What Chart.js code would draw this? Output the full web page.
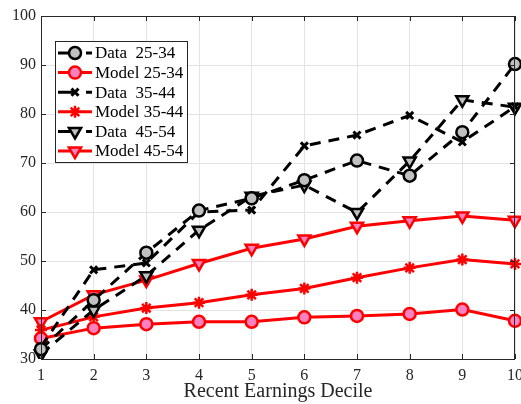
<!DOCTYPE html>
<html>
<head>
<meta charset="utf-8">
<script src="https://cdn.jsdelivr.net/npm/chart.js@4.4.1/dist/chart.umd.min.js"></script>
<style>
html,body{margin:0;padding:0;background:#fff;overflow:hidden;}
#wrap{width:521px;height:404px;position:relative;overflow:hidden;}
#c{position:absolute;left:0;top:0;}
</style>
</head>
<body>
<div id="wrap"><canvas id="c" width="530" height="404"></canvas></div>
<script>
const deciles = ['1','2','3','4','5','6','7','8','9','10'];
const yTicks = [30,40,50,60,70,80,90,100];
const data2534 = [32, 42, 51.7, 60.3, 62.8, 66.5, 70.5, 67.4, 76.3, 90.2];
const model2534 = [34.2, 36.3, 37.1, 37.6, 37.6, 38.5, 38.8, 39.2, 40.1, 37.8];
const data3544 = [32.5, 48.2, 49.6, 60.0, 60.4, 73.5, 75.7, 79.7, 74.3, 81.5];
const model3544 = [35.9, 38.6, 40.4, 41.5, 43.1, 44.4, 46.6, 48.6, 50.3, 49.4];
const data4554 = [31, 40, 47, 56.3, 63.2, 65.5, 59.9, 70.4, 82.9, 81.4];
const model4554 = [37.6, 43.1, 46.1, 49.5, 52.6, 54.5, 57.1, 58.2, 59.2, 58.3];
const seriesLabels = ['Data  25-34','Model 25-34','Data  35-44','Model 35-44','Data  45-54','Model 45-54'];

const FONT = '"Liberation Serif", "Times New Roman", serif';
const TXT = '#262626';

function ds(label, data, isModel, style) {
  const base = {
    label, data,
    borderColor: isModel ? '#ff0000' : '#000000',
    borderWidth: 3,
    borderDash: isModel ? [] : [11, 8],
    pointBorderColor: isModel ? '#ff0000' : '#000000',
    pointBorderWidth: 2.5,
    pointHoverRadius: 6,
    tension: 0,
    fill: false,
    order: isModel ? 2 : 1
  };
  if (style === 'circle') {
    base.pointStyle = 'circle';
    base.pointRadius = 6;
    base.pointBackgroundColor = isModel ? '#ff80c0' : '#c0c0c0';
  } else if (style === 'tri') {
    base.pointStyle = 'triangle';
    base.pointRotation = 180;
    base.pointRadius = 7;
    base.pointBackgroundColor = isModel ? '#ff80c0' : '#c0c0c0';
  } else {
    base.pointStyle = isModel ? 'star' : 'crossRot';
    base.pointRadius = isModel ? 6 : 5;
    base.pointBorderWidth = isModel ? 2.5 : 3;
    base.pointBackgroundColor = isModel ? '#ff0000' : '#000000';
  }
  return base;
}

const datasets = [
  ds(seriesLabels[0], data2534, false, 'circle'),
  ds(seriesLabels[1], model2534, true, 'circle'),
  ds(seriesLabels[2], data3544, false, 'x'),
  ds(seriesLabels[3], model3544, true, 'x'),
  ds(seriesLabels[4], data4554, false, 'tri'),
  ds(seriesLabels[5], model4554, true, 'tri')
];

const framePlugin = {
  id: 'frame',
  afterDatasetsDraw(chart) {
    const {ctx, chartArea: a, scales} = chart;
    ctx.save();
    ctx.strokeStyle = TXT;
    ctx.lineWidth = 1;
    ctx.setLineDash([]);
    ctx.strokeRect(a.left + 0.5, a.top + 0.5, a.right - a.left - 1, a.bottom - a.top);
    const tl = 5;
    ctx.beginPath();
    scales.x.ticks.forEach((t, i) => {
      const x = Math.round(scales.x.getPixelForTick(i)) + 0.5;
      ctx.moveTo(x, a.bottom); ctx.lineTo(x, a.bottom - tl);
      ctx.moveTo(x, a.top); ctx.lineTo(x, a.top + tl);
    });
    scales.y.ticks.forEach((t, i) => {
      const y = Math.round(scales.y.getPixelForTick(i)) + 0.5;
      ctx.moveTo(a.left, y); ctx.lineTo(a.left + tl, y);
      ctx.moveTo(a.right, y); ctx.lineTo(a.right - tl, y);
    });
    ctx.stroke();

    // legend
    const lx = 55, ly = 41, lw = 132, lh = 121;
    ctx.fillStyle = '#ffffff';
    ctx.fillRect(lx, ly, lw, lh);
    ctx.strokeStyle = TXT;
    ctx.lineWidth = 1;
    ctx.strokeRect(lx + 0.5, ly + 0.5, lw, lh);
    const rowH = 19.6;
    chart.data.datasets.forEach((d, i) => {
      const y = ly + 12 + i * rowH;
      ctx.save();
      ctx.strokeStyle = d.borderColor;
      ctx.lineWidth = 3;
      ctx.beginPath();
      if (d.borderDash.length) {
        ctx.moveTo(lx + 3, y); ctx.lineTo(lx + 20, y);
        ctx.moveTo(lx + 31, y); ctx.lineTo(lx + 37, y);
      } else {
        ctx.moveTo(lx + 3, y); ctx.lineTo(lx + 37, y);
      }
      ctx.stroke();
      ctx.fillStyle = d.pointBackgroundColor;
      ctx.strokeStyle = d.pointBorderColor;
      ctx.lineWidth = d.pointBorderWidth;
      Chart.helpers.drawPoint(ctx, {
        pointStyle: d.pointStyle, rotation: d.pointRotation || 0,
        radius: d.pointRadius, borderWidth: d.pointBorderWidth
      }, lx + 20, y);
      ctx.restore();
      ctx.fillStyle = '#000';
      ctx.font = '17px ' + FONT;
      ctx.textBaseline = 'middle';
      ctx.textAlign = 'left';
      ctx.fillText(d.label.replace('  ', '\u2002'), lx + 40, y + 1);
    });
    ctx.restore();
  }
};

new Chart(document.getElementById('c'), {
  type: 'line',
  data: { labels: deciles, datasets },
  options: {
    responsive: false,
    animation: false,
    devicePixelRatio: 1,
    layout: { autoPadding: false, padding: { top: 16, right: 6, left: 0, bottom: 0 } },
    plugins: { legend: { display: false }, tooltip: { enabled: false } },
    scales: {
      x: {
        type: 'category',
        offset: false,
        grid: { color: '#e3e3e3', lineWidth: 1, drawTicks: false },
        border: { display: false },
        ticks: { color: TXT, font: { family: FONT, size: 16 }, padding: 7, maxRotation: 0, autoSkip: false },
        title: { display: true, text: 'Recent Earnings Decile', color: TXT, font: { family: FONT, size: 20 }, padding: { top: 0, bottom: 0 } },
        afterFit(s) { s.height = 45; }
      },
      y: {
        min: 30, max: 100,
        afterBuildTicks(s) { s.ticks = yTicks.map(v => ({ value: v })); },
        grid: { color: '#e3e3e3', lineWidth: 1, drawTicks: false },
        border: { display: false },
        ticks: { color: TXT, font: { family: FONT, size: 16 }, padding: 5 },
        afterFit(s) { s.width = 41; }
      }
    }
  },
  plugins: [framePlugin]
});
</script>
</body>
</html>
